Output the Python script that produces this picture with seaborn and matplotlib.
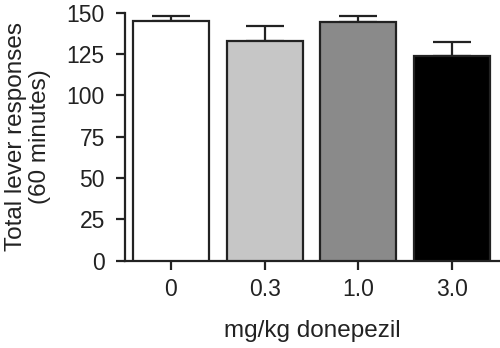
import matplotlib
matplotlib.use("Agg")
import matplotlib.pyplot as plt
import seaborn as sns
import pandas as pd

doses = ["0", "0.3", "1.0", "3.0"]
responses = [145, 133, 144, 124]
sem = [3, 9, 4, 8]
bar_colors = ["#ffffff", "#c6c6c6", "#8a8a8a", "#000000"]

sns.set_style("ticks")
plt.rcParams["font.family"] = ["Liberation Sans", "DejaVu Sans"]

df = pd.DataFrame({"dose": doses, "responses": responses})

fig = plt.figure(figsize=(5, 3.48), dpi=100)
ax = fig.add_axes([0.25, 0.251, 0.748, 0.713])

sns.barplot(data=df, x="dose", y="responses", hue="dose", palette=bar_colors,
            legend=False, width=0.81, edgecolor="#222222", linewidth=1.6,
            errorbar=None, ax=ax, zorder=3)

ax.errorbar(range(len(doses)), responses, yerr=[[0] * len(sem), sem],
            fmt="none", ecolor="#222222", elinewidth=1.6, capsize=14,
            capthick=1.6, zorder=2)

ax.set_xlim(-0.49, 3.5)
ax.set_ylim(0, 150)
ax.set_yticks([0, 25, 50, 75, 100, 125, 150])

ax.set_xlabel("mg/kg donepezil", fontsize=17.5, color="#222222", labelpad=13.5)
ax.set_ylabel("Total lever responses\n(60 minutes)", fontsize=17.5,
              color="#222222", labelpad=11, linespacing=1.15)

for side in ("top", "right"):
    ax.spines[side].set_visible(False)
for side in ("left", "bottom"):
    ax.spines[side].set_linewidth(1.6)
    ax.spines[side].set_color("#222222")
ax.tick_params(axis="both", length=6.5, width=1.6, color="#222222",
               labelsize=16.5, labelcolor="#222222")
ax.tick_params(axis="y", pad=8)
ax.tick_params(axis="x", pad=6)

fig.savefig("out.png", dpi=100)
